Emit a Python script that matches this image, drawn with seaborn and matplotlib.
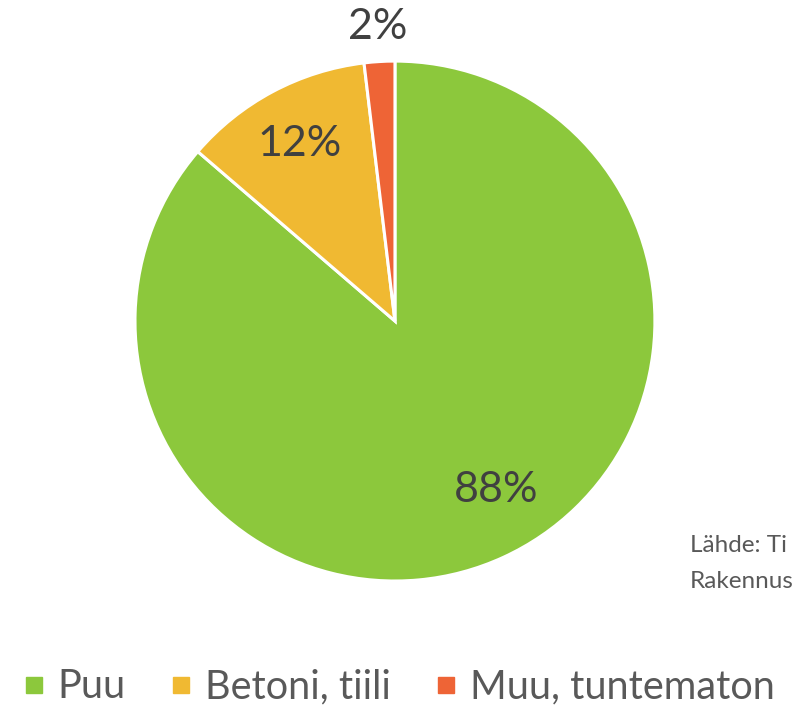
import matplotlib
matplotlib.use("Agg")
import matplotlib.pyplot as plt
from matplotlib.lines import Line2D
import seaborn as sns

categories = ["Puu", "Betoni, tiili", "Muu, tuntematon"]
values = [86.3, 11.8, 1.9]
pct_labels = ["88%", "12%", "2%"]
colors = ["#8CC83C", "#F0B932", "#EE6436"]
# source note is cut off at the right edge in the original
source_lines = ["Lähde: Ti", "Rakennus"]

sns.set_theme(style="white")
plt.rcParams["font.family"] = ["Lato", "DejaVu Sans"]

fig = plt.figure(figsize=(7.95, 7.06), dpi=100)
ax = fig.add_axes([0.1698, 0.177, 0.654, 0.7365])

wedges, _ = ax.pie(values, colors=colors, startangle=90, counterclock=False,
                   radius=1, wedgeprops=dict(edgecolor="white", linewidth=2.2))
ax.set_xlim(-1, 1)
ax.set_ylim(-1, 1)
ax.set_aspect("equal")

# label positions relative to pie centre
label_pos = [(0.39, -0.65), (-0.365, 0.68), (-0.065, 1.13)]
for (x, y), t in zip(label_pos, pct_labels):
    ax.text(x, y, t, ha="center", va="center", fontsize=31, color="#404040",
            clip_on=False)

fig.text(690 / 795, 1 - 545 / 706, source_lines[0], fontsize=17.5, color="#595959",
         ha="left", va="center")
fig.text(690 / 795, 1 - 582 / 706, source_lines[1], fontsize=17.5, color="#595959",
         ha="left", va="center")

handles = [Line2D([], [], marker="s", linestyle="", markersize=12,
                  markerfacecolor=c, markeredgecolor=c) for c in colors]
fig.legend(handles, categories, loc="center", bbox_to_anchor=(0.5, 1 - 687 / 706),
           ncol=3, frameon=False, fontsize=28.5, labelcolor="#595959",
           handletextpad=0.25, columnspacing=1.05, handlelength=0.7)

fig.savefig("out.png", dpi=100)
